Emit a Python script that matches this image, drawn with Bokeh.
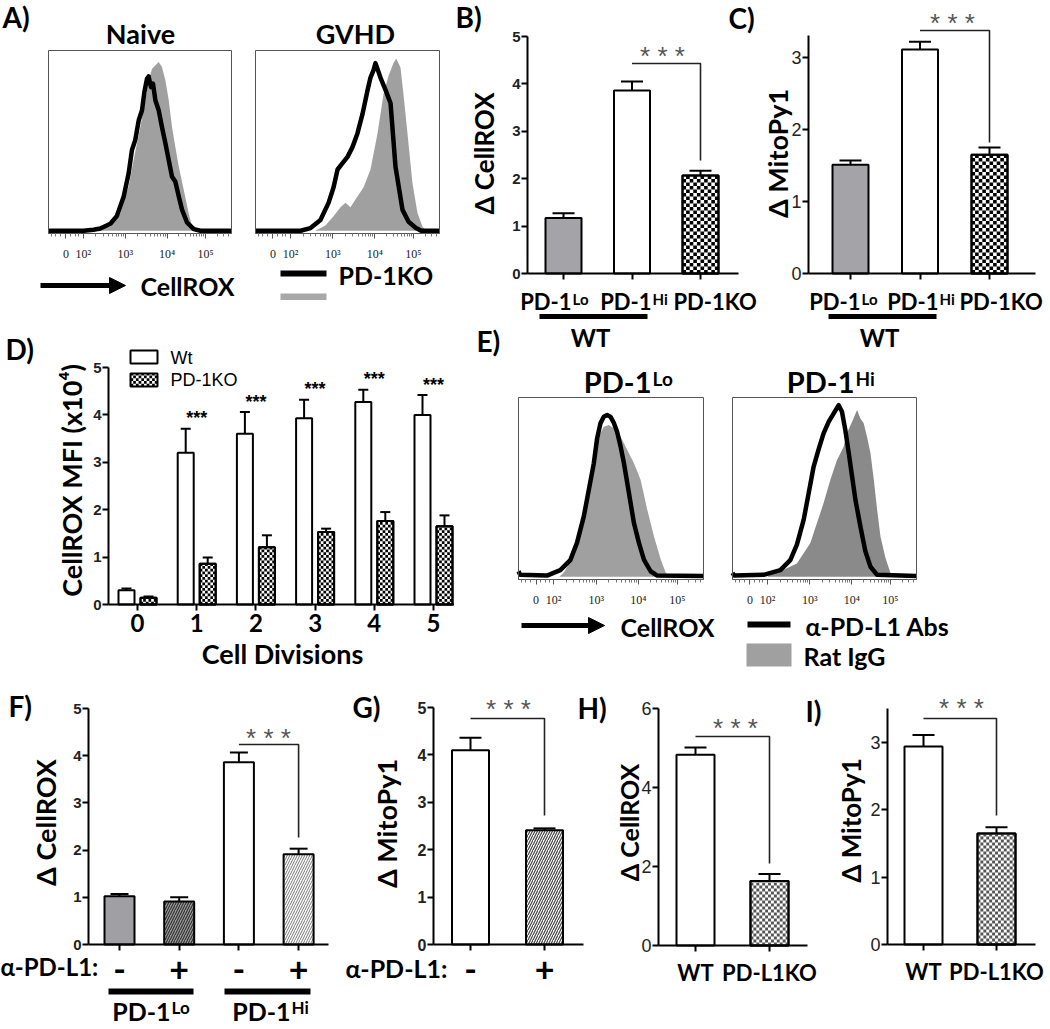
import math
from bokeh.plotting import figure
from bokeh.models import (Range1d, Label, Arrow, NormalHead, TeeHead, Whisker, ColumnDataSource,
                          FixedTicker, LinearAxis)
from bokeh.layouts import row, column
from bokeh.core.properties import value
from bokeh.embed import file_html
from bokeh.resources import INLINE

# ---------------- data ----------------
# Flow histograms: x = display channel (0-1000), y = % of max
NAIVE_GREY_X = [0, 270, 283, 338, 392, 438, 465, 502, 529, 547, 566, 602, 620, 639, 657, 675, 693, 712, 739, 766, 785, 812, 830, 1000]
NAIVE_GREY_Y = [0, 0, 0.6, 2.4, 9.8, 24.5, 39.2, 57.6, 72.4, 83.4, 89.9, 93.6, 90.8, 83.4, 72.4, 57.6, 46.6, 35.5, 22.7, 9.8, 2.4, 0.6, 0, 0]
NAIVE_BLACK_X = [0, 192, 246, 283, 338, 374, 411, 438, 456, 474, 493, 511, 524, 538, 547, 560, 571, 584, 602, 620, 639, 657, 675, 693, 712, 730, 757, 794, 830, 1000]
NAIVE_BLACK_Y = [0, 0, 0.6, 1.3, 3.9, 8.3, 19.0, 31.9, 44.8, 50.3, 61.3, 66.9, 77.0, 84.3, 85.6, 79.7, 81.6, 72.4, 66.9, 57.6, 48.4, 39.2, 30.0, 27.3, 19.0, 11.6, 4.6, 0.9, 0, 0]

GVHD_GREY_X = [0, 326, 380, 424, 462, 489, 516, 554, 587, 625, 663, 696, 723, 750, 765, 788, 804, 826, 853, 880, 908, 930, 1000]
GVHD_GREY_Y = [0, 0, 3, 8, 13, 15.5, 13, 19, 24, 34, 54, 76, 86, 93, 95.6, 90.6, 76, 54, 26.5, 10, 2.2, 0, 0]
GVHD_BLACK_X = [0, 245, 299, 353, 397, 424, 446, 473, 500, 527, 554, 582, 609, 625, 641, 652, 679, 707, 734, 761, 799, 832, 870, 900, 1000]
GVHD_BLACK_Y = [0, 0, 1.5, 6, 15.5, 24, 34, 37.5, 41, 46.4, 54, 65, 78, 85, 89, 93, 85, 78, 70.7, 35.4, 11.6, 5, 1.7, 0, 0]

LO_GREY_X = [0, 220, 244, 298, 335, 371, 407, 434, 461, 488, 515, 552, 588, 624, 660, 696, 732, 769, 796, 823, 1000]
LO_GREY_Y = [0, 0, 2.2, 11.5, 26.3, 44.8, 63.3, 78.1, 83.7, 84.6, 82.8, 78.1, 70.7, 63.3, 54.1, 37.4, 22.6, 9.6, 2.2, 0.4, 0]
LO_BLACK_X = [0, 9, 154, 226, 280, 316, 353, 380, 407, 425, 443, 461, 479, 497, 515, 533, 552, 570, 588, 606, 624, 651, 678, 714, 750, 1000]
LO_BLACK_Y = [3.1, 1.1, 0.7, 3.7, 9.3, 18.9, 33.7, 48.5, 63.3, 77.2, 85.6, 89.3, 90.2, 89.3, 85.9, 80.9, 72.6, 63.3, 52.2, 41.1, 30.0, 18.9, 9.6, 3.1, 0.7, 0.4]

HI_GREY_X = [0, 190, 205, 260, 350, 423, 459, 495, 532, 568, 604, 622, 650, 677, 695, 713, 731, 750, 768, 786, 804, 831, 858, 886, 1000]
HI_GREY_Y = [0, 0, 1.3, 3.1, 7.4, 18.9, 30.0, 41.1, 54.1, 65.2, 72.6, 80.0, 86.5, 93.0, 88.3, 85.6, 78.1, 68.9, 54.1, 37.4, 22.6, 10.6, 2.2, 0.4, 0]
HI_BLACK_X = [0, 9, 169, 260, 314, 350, 387, 414, 441, 468, 495, 523, 550, 577, 595, 613, 632, 650, 668, 695, 722, 750, 786, 1000]
HI_BLACK_Y = [2.2, 0.7, 1.1, 3.7, 9.3, 18.0, 31.9, 46.7, 61.5, 71.1, 80.0, 86.5, 91.1, 95.7, 92.0, 81.9, 68.9, 55.9, 43.0, 28.1, 14.3, 5.6, 1.1, 0.4]

FLOW_TICK_POS = [95, 190, 420, 648, 858]
FLOW_TICK_LABELS = ["0", "10²", "10³", "10⁴", "10⁵"]

B_CATS = ["PD-1Lo", "PD-1Hi", "PD-1KO"]
B_VALUES = [1.17, 3.86, 2.07]
B_ERRORS = [0.10, 0.19, 0.10]

C_CATS = ["PD-1Lo", "PD-1Hi", "PD-1KO"]
C_VALUES = [1.51, 3.11, 1.65]
C_ERRORS = [0.06, 0.11, 0.10]

D_DIVISIONS = [0, 1, 2, 3, 4, 5]
D_WT = [0.30, 3.20, 3.60, 3.93, 4.27, 4.00]
D_WT_ERR = [0.04, 0.51, 0.46, 0.39, 0.26, 0.42]
D_KO = [0.14, 0.86, 1.21, 1.53, 1.76, 1.65]
D_KO_ERR = [0.03, 0.13, 0.25, 0.07, 0.19, 0.23]

F_TICKS = ["-", "+", "-", "+"]
F_VALUES = [1.02, 0.91, 3.86, 1.91]
F_ERRORS = [0.05, 0.09, 0.21, 0.12]

G_TICKS = ["-", "+"]
G_VALUES = [4.10, 2.41]
G_ERRORS = [0.26, 0.04]

H_CATS = ["WT", "PD-L1KO"]
H_VALUES = [4.83, 1.63]
H_ERRORS = [0.18, 0.18]

I_CATS = ["WT", "PD-L1KO"]
I_VALUES = [2.94, 1.65]
I_ERRORS = [0.17, 0.09]

# ---------------- helpers ----------------
FONT = "Lato"
NUM = "Liberation Sans"
SERIF = "Liberation Serif"

FLOW_MINOR = []
for a, b in [(190, 420), (420, 648), (648, 858), (858, 1068)]:
    for k in range(2, 10):
        v = a + (b - a) * math.log10(k)
        if v < 1000:
            FLOW_MINOR.append(v)
FLOW_MINOR += [15, 40, 65, 120, 145, 165]


class Panel:
    """A figure whose frame is its whole canvas; page pixel positions map linearly to data."""

    def __init__(self, ox, oy, w, h, xmap, ymap):
        self.ox, self.oy, self.w, self.h = ox, oy, w, h
        self.xmap, self.ymap = xmap, ymap
        self.xr = (self.X(ox), self.X(ox + w))
        self.yr = (self.Y(oy + h), self.Y(oy))
        self.sx = abs((xmap[3] - xmap[1]) / (xmap[2] - xmap[0]))
        self.sy = abs((ymap[3] - ymap[1]) / (ymap[2] - ymap[0]))
        p = figure(width=w, height=h, x_range=Range1d(*self.xr), y_range=Range1d(*self.yr),
                   output_backend="svg", toolbar_location=None, title=None,
                   x_axis_location=None, y_axis_location=None, min_border=0)
        p.background_fill_color = "white"
        p.border_fill_color = "white"
        p.outline_line_color = None
        p.grid.visible = False
        p.grid.grid_line_color = None
        self.p = p

    def X(self, px):
        pa, va, pb, vb = self.xmap
        return va + (px - pa) * (vb - va) / (pb - pa)

    def Y(self, py):
        pa, va, pb, vb = self.ymap
        return va + (py - pa) * (vb - va) / (pb - pa)


def text(P, x, y, s, size=26, align="left", bold=True, font=FONT, color="black", angle=0.0):
    P.p.add_layout(Label(x=P.X(x), y=P.Y(y), text=s, text_font=font,
                         text_font_size=f"{size}px",
                         text_font_style="bold" if bold else "normal",
                         text_color=color, text_align=align, text_baseline="middle",
                         angle=angle))


def suptext(P, xa, y, base, sup, size, sup_size):
    # base text ends at xa, superscript starts right after it
    text(P, xa, y, base, size, align="right")
    text(P, xa + 1, y - 0.12 * size, sup, sup_size)


def hline(P, x0, x1, y, width, color="black"):
    P.p.add_layout(Arrow(x_start=P.X(x0), y_start=P.Y(y), x_end=P.X(x1), y_end=P.Y(y),
                         start=None, end=None, line_width=width, line_color=color))


def flow_arrow(P, x0, x1, y):
    P.p.add_layout(Arrow(x_start=P.X(x0), y_start=P.Y(y), x_end=P.X(x1), y_end=P.Y(y),
                         end=NormalHead(size=16, fill_color="black", line_color="black", line_width=1),
                         line_width=5, line_color="black"))


def checker_cells(P, x0, x1, y0, y1, cell_px, color):
    nx = max(1, int(round((x1 - x0) / (cell_px * P.sx))))
    cw = (x1 - x0) / nx
    ch = cell_px * P.sy
    ny = int(math.ceil((y1 - y0) / ch - 1e-9))
    L, R, B, T = [], [], [], []
    for i in range(nx):
        for j in range(ny):
            if (i + j) % 2 == 0:
                L.append(x0 + i * cw)
                R.append(x0 + (i + 1) * cw)
                B.append(y0 + j * ch)
                T.append(min(y0 + (j + 1) * ch, y1))
    P.p.quad(left=L, right=R, bottom=B, top=T, fill_color=color, line_color=None)


def hist_panel(ox, oy, w, h, box, gx, gy, bx, by, grey):
    bx0, by0, bx1, by1 = box
    P = Panel(ox, oy, w, h, (bx0, 0, bx1, 1000), (by1, -1.5, by0, 100))
    p = P.p
    p.varea(x=gx, y1=0, y2=gy, fill_color=grey, fill_alpha=1.0)
    p.line(x=bx, y=by, line_color="black", line_width=4.5, line_join="round")
    p.quad(left=[0], right=[1000], bottom=[-1.5], top=[100], fill_color=None,
           line_color="#555555", line_width=1)
    ax = LinearAxis(fixed_location=-1.5, bounds=(0, 1000),
                    ticker=FixedTicker(ticks=FLOW_TICK_POS, minor_ticks=FLOW_MINOR))
    ax.major_label_overrides = {t: l for t, l in zip(FLOW_TICK_POS, FLOW_TICK_LABELS)}
    ax.major_label_text_font = SERIF
    ax.major_label_text_font_size = "12px"
    ax.major_label_text_color = "#222222"
    ax.major_label_standoff = 8
    ax.axis_line_color = "#555555"
    ax.major_tick_line_color = "#555555"
    ax.minor_tick_line_color = "#777777"
    ax.major_tick_out = 5
    ax.major_tick_in = 0
    ax.minor_tick_out = 3
    ax.minor_tick_in = 0
    p.add_layout(ax, "below")
    return P


def bar_panel(ox, oy, w, h, tick0, step, zero_px, yref_val, yref_px, axis_px, xend_px, ytop,
              yticks, ysize, ybold, ncat, xlabels=None, xsize=25, xstandoff=4):
    P = Panel(ox, oy, w, h, (tick0, 0, tick0 + step, 1), (zero_px, 0, yref_px, yref_val))
    p = P.p
    ya = LinearAxis(fixed_location=P.X(axis_px), bounds=(0, ytop), ticker=FixedTicker(ticks=yticks))
    ya.axis_line_width = 2
    ya.axis_line_color = "black"
    ya.major_tick_line_width = 2
    ya.major_tick_out = 6
    ya.major_tick_in = 0
    ya.minor_tick_line_color = None
    ya.major_label_text_font = NUM
    ya.major_label_text_font_style = "bold" if ybold else "normal"
    ya.major_label_text_font_size = f"{ysize}px"
    ya.major_label_text_color = "#222222"
    ya.major_label_standoff = 1
    p.add_layout(ya, "left")
    cats = list(range(ncat))
    if xlabels is None:
        xa = LinearAxis(fixed_location=0, bounds=(P.X(axis_px), P.X(xend_px)),
                        ticker=FixedTicker(ticks=[], minor_ticks=cats))
        xa.minor_tick_out = 6
        xa.minor_tick_in = 0
        xa.minor_tick_line_width = 2
        xa.minor_tick_line_color = "black"
    else:
        xa = LinearAxis(fixed_location=0, bounds=(P.X(axis_px), P.X(xend_px)),
                        ticker=FixedTicker(ticks=cats))
        xa.major_tick_line_width = 2
        xa.major_tick_out = 6
        xa.major_tick_in = 0
        xa.minor_tick_line_color = None
        xa.major_label_overrides = {i: s for i, s in enumerate(xlabels)}
        xa.major_label_text_font = FONT
        xa.major_label_text_font_style = "bold"
        xa.major_label_text_font_size = f"{xsize}px"
        xa.major_label_text_color = "black"
        xa.major_label_standoff = xstandoff
    xa.axis_line_width = 2
    xa.axis_line_color = "black"
    p.add_layout(xa, "below")
    return P


def bars(P, xs, tops, width_px, fill, hatch=None, hatch_color="black", hatch_scale=5, hatch_weight=1.0,
         checker=None):
    w = width_px * P.sx
    kw = dict(x=xs, top=tops, bottom=0, width=w, fill_color=fill, line_color="black", line_width=2)
    if hatch is not None:
        kw.update(hatch_pattern=hatch, hatch_color=hatch_color, hatch_scale=hatch_scale,
                  hatch_weight=hatch_weight)
    r = P.p.vbar(**kw)
    if checker is not None:
        cell, color = checker
        for x, t in zip(xs, tops):
            checker_cells(P, x - w / 2, x + w / 2, 0, t, cell, color)
        P.p.vbar(x=xs, top=tops, bottom=0, width=w, fill_color=None, line_color="black", line_width=2)
    return r


def errbars(P, xs, tops, errs, cap):
    src = ColumnDataSource(dict(x=list(xs), lo=list(tops), hi=[t + e for t, e in zip(tops, errs)]))
    P.p.add_layout(Whisker(source=src, base="x", lower="lo", upper="hi", dimension="height",
                           line_width=2, line_color="black", level="annotation",
                           lower_head=None,
                           upper_head=TeeHead(size=cap, line_width=2, line_color="black")))


def bracket(P, i0, i1, ypx, ydrop_px, star_x, star_y):
    P.p.line(x=[i0, i1, i1], y=[P.Y(ypx), P.Y(ypx), P.Y(ydrop_px)], line_color="#222222", line_width=1.6)
    text(P, star_x, star_y, "* * *", 26, align="center", bold=False, font=NUM, color="#555555")


ROT = math.pi / 2

# ---------------- A) ----------------
PA1 = hist_panel(0, 0, 243, 300, (48, 50, 231, 233), NAIVE_GREY_X, NAIVE_GREY_Y,
                 NAIVE_BLACK_X, NAIVE_BLACK_Y, "#a0a0a0")
text(PA1, 2, 16, "A)", 28)
text(PA1, 140, 33, "Naive", 27, align="center")
flow_arrow(PA1, 40, 125, 285)
text(PA1, 140, 285, "CellROX", 25)

PA2 = hist_panel(243, 0, 211, 300, (255, 50, 439, 233), GVHD_GREY_X, GVHD_GREY_Y,
                 GVHD_BLACK_X, GVHD_BLACK_Y, "#a0a0a0")
text(PA2, 355, 33, "GVHD", 27, align="center")
hline(PA2, 280, 326, 273, 6)
text(PA2, 338, 274, "PD-1KO", 25)
hline(PA2, 280, 326, 299, 12, "#a8a8a8")
text(PA2, 338, 308, "WT", 25, color="#d0d0d0")

# ---------------- B) ----------------
PB = bar_panel(454, 0, 306, 360, 563, 68.5, 273, 5, 36, 527, 738, 5,
               [0, 1, 2, 3, 4, 5], 15, True, 3)
bars(PB, [0], B_VALUES[0:1], 36, "#a3a3a8")
bars(PB, [1], B_VALUES[1:2], 36, "white")
bars(PB, [2], B_VALUES[2:3], 36, "white", checker=(3.5, "black"))
errbars(PB, [0, 1, 2], B_VALUES, B_ERRORS, 22)
bracket(PB, 1, 2, 63, 160, 662, 55)
text(PB, 455, 16, "B)", 28)
text(PB, 483, 153, "Δ CellROX", 26, align="center", angle=ROT)
suptext(PB, 571, 301, "PD-1", "Lo", 22, 15)
suptext(PB, 651, 301, "PD-1", "Hi", 22, 15)
text(PB, 673, 301, "PD-1KO", 22)
hline(PB, 539, 647, 316, 5)
text(PB, 590, 337, "WT", 24, align="center")
text(PB, 728, 17, "C)", 28)
text(PB, 476, 340, "E)", 28)

# ---------------- C) ----------------
PC = bar_panel(760, 0, 288, 360, 850, 69.5, 273, 3, 57, 808, 1035, 3.3,
               [0, 1, 2, 3], 18, False, 3)
bars(PC, [0], C_VALUES[0:1], 36, "#a3a3a8")
bars(PC, [1], C_VALUES[1:2], 36, "white")
bars(PC, [2], C_VALUES[2:3], 36, "white", checker=(3.5, "black"))
errbars(PC, [0, 1, 2], C_VALUES, C_ERRORS, 22)
bracket(PC, 1, 2, 30, 142, 952, 22)
text(PC, 777, 153, "Δ MitoPy1", 27, align="center", angle=ROT)
suptext(PC, 860, 301, "PD-1", "Lo", 22, 15)
suptext(PC, 938, 301, "PD-1", "Hi", 22, 15)
text(PC, 959, 301, "PD-1KO", 22)
hline(PC, 828, 936, 316, 5)
text(PC, 879, 337, "WT", 24, align="center")

# ---------------- D) ----------------
PD = bar_panel(0, 300, 454, 370, 137, 59.2, 604, 5, 367, 108, 454, 5,
               [0, 1, 2, 3, 4, 5], 15, True, 6, xlabels=[str(d) for d in D_DIVISIONS],
               xsize=24, xstandoff=3)
off = 11 * PD.sx
xw = [d - off for d in D_DIVISIONS]
xk = [d + off for d in D_DIVISIONS]
bars(PD, xw, D_WT, 16, "white")
bars(PD, xk, D_KO, 16, "white", checker=(2.75, "black"))
errbars(PD, xw, D_WT, D_WT_ERR, 10)
errbars(PD, xk, D_KO, D_KO_ERR, 10)
PD.p.text(x=D_DIVISIONS[1:], y=[w + e + 0.22 for w, e in zip(D_WT[1:], D_WT_ERR[1:])],
          text=["***"] * 5, text_font=value(NUM), text_font_style="bold",
          text_font_size="18px", text_align="center", text_baseline="middle", text_color="black")
# legend swatches
PD.p.quad(left=[PD.X(130)], right=[PD.X(157)], bottom=[PD.Y(363)], top=[PD.Y(350)],
          fill_color="white", line_color="black", line_width=2)
PD.p.quad(left=[PD.X(130)], right=[PD.X(157)], bottom=[PD.Y(386)], top=[PD.Y(373)],
          fill_color="white", line_color=None)
checker_cells(PD, PD.X(130), PD.X(157), PD.Y(386), PD.Y(373), 2.75, "black")
PD.p.quad(left=[PD.X(130)], right=[PD.X(157)], bottom=[PD.Y(386)], top=[PD.Y(373)],
          fill_color=None, line_color="black", line_width=2)
text(PD, 170, 357, "Wt", 18, bold=False, font=NUM)
text(PD, 170, 379, "PD-1KO", 18, bold=False, font=NUM)
text(PD, 5, 348, "D)", 28)
text(PD, 282, 653, "Cell Divisions", 27, align="center")
text(PD, 71, 480, "CellROX MFI (x10⁴)", 27, align="center", angle=ROT)

# ---------------- E) ----------------
PE1 = hist_panel(454, 360, 264, 310, (518, 397, 703, 579), LO_GREY_X, LO_GREY_Y,
                 LO_BLACK_X, LO_BLACK_Y, "#a0a0a0")
suptext(PE1, 651, 381, "PD-1", "Lo", 29, 19)
flow_arrow(PE1, 521, 604, 625)
text(PE1, 620, 626, "CellROX", 25)

PE2 = hist_panel(718, 360, 330, 310, (732, 397, 916, 579), HI_GREY_X, HI_GREY_Y,
                 HI_BLACK_X, HI_BLACK_Y, "#8a8a8a")
suptext(PE2, 854, 381, "PD-1", "Hi", 29, 19)
hline(PE2, 747, 790, 624, 6)
text(PE2, 805, 625, "α-PD-L1 Abs", 25)
hline(PE2, 746, 791, 654.5, 23, "#a0a0a0")
text(PE2, 803, 655, "Rat IgG", 25)

# ---------------- F) ----------------
PF = bar_panel(0, 670, 343, 357, 119, 59.7, 944, 5, 708, 88, 328, 5,
               [0, 1, 2, 3, 4, 5], 15, True, 4, xlabels=F_TICKS, xsize=34, xstandoff=6)
bars(PF, [0], F_VALUES[0:1], 30, "#a0a0a4")
bars(PF, [1], F_VALUES[1:2], 30, "#9c9c9c", hatch="right_diagonal_line", hatch_color="#333333",
     hatch_scale=5, hatch_weight=1.2)
bars(PF, [2], F_VALUES[2:3], 30, "white")
bars(PF, [3], F_VALUES[3:4], 30, "white", hatch="right_diagonal_line", hatch_color="#777777",
     hatch_scale=5, hatch_weight=1.0)
errbars(PF, [0, 1, 2, 3], F_VALUES, F_ERRORS, 18)
bracket(PF, 2, 3, 744, 837, 268, 737)
text(PF, 8, 705, "F)", 28)
text(PF, 45, 822, "Δ CellROX", 27, align="center", angle=ROT)
text(PF, 0, 966, "α-PD-L1:", 24)
hline(PF, 108, 193, 991, 6)
hline(PF, 224, 310, 991, 6)
suptext(PF, 170, 1010, "PD-1", "Lo", 25, 17)
suptext(PF, 290, 1010, "PD-1", "Hi", 25, 17)

# ---------------- G) ----------------
PG = bar_panel(343, 670, 267, 357, 470, 74, 944, 5, 707, 433, 583, 5,
               [0, 1, 2, 3, 4, 5], 16, True, 2, xlabels=G_TICKS, xsize=34, xstandoff=6)
bars(PG, [0], G_VALUES[0:1], 37, "white")
bars(PG, [1], G_VALUES[1:2], 37, "white", hatch="right_diagonal_line", hatch_color="#444444",
     hatch_scale=5, hatch_weight=1.2)
errbars(PG, [0, 1], G_VALUES, G_ERRORS, 22)
bracket(PG, 0, 1, 718, 815, 508, 708)
text(PG, 352, 706, "G)", 28)
text(PG, 386, 823, "Δ MitoPy1", 27, align="center", angle=ROT)
text(PG, 345, 967, "α-PD-L1:", 25)
text(PG, 577, 707, "H)", 28)

# ---------------- H) ----------------
PH = bar_panel(610, 670, 222, 357, 695, 74, 945, 6, 708, 658, 807, 6,
               [0, 2, 4, 6], 18, False, 2, xlabels=H_CATS, xsize=22, xstandoff=7)
bars(PH, [0], H_VALUES[0:1], 38, "white")
bars(PH, [1], H_VALUES[1:2], 38, "white", checker=(3, "#555555"))
errbars(PH, [0, 1], H_VALUES, H_ERRORS, 22)
bracket(PH, 0, 1, 736, 863, 735, 727)
text(PH, 628, 822, "Δ CellROX", 25, align="center", angle=ROT)
text(PH, 805, 710, "I)", 28)

# ---------------- I) ----------------
PI = bar_panel(832, 670, 216, 357, 923, 73, 944, 3, 742, 887, 1035, 3.5,
               [0, 1, 2, 3], 18, False, 2, xlabels=I_CATS, xsize=22, xstandoff=7)
bars(PI, [0], I_VALUES[0:1], 38, "white")
bars(PI, [1], I_VALUES[1:2], 38, "white", checker=(3, "#555555"))
errbars(PI, [0, 1], I_VALUES, I_ERRORS, 22)
bracket(PI, 0, 1, 718, 815, 961, 707)
text(PI, 850, 820, "Δ MitoPy1", 26, align="center", angle=ROT)

# ---------------- layout ----------------
left = column(row(PA1.p, PA2.p), PD.p)
right = column(row(PB.p, PC.p), row(PE1.p, PE2.p))
layout = column(row(left, right), row(PF.p, PG.p, PH.p, PI.p))

with open("out.html", "w") as f:
    f.write(file_html(layout, INLINE, "figure"))
